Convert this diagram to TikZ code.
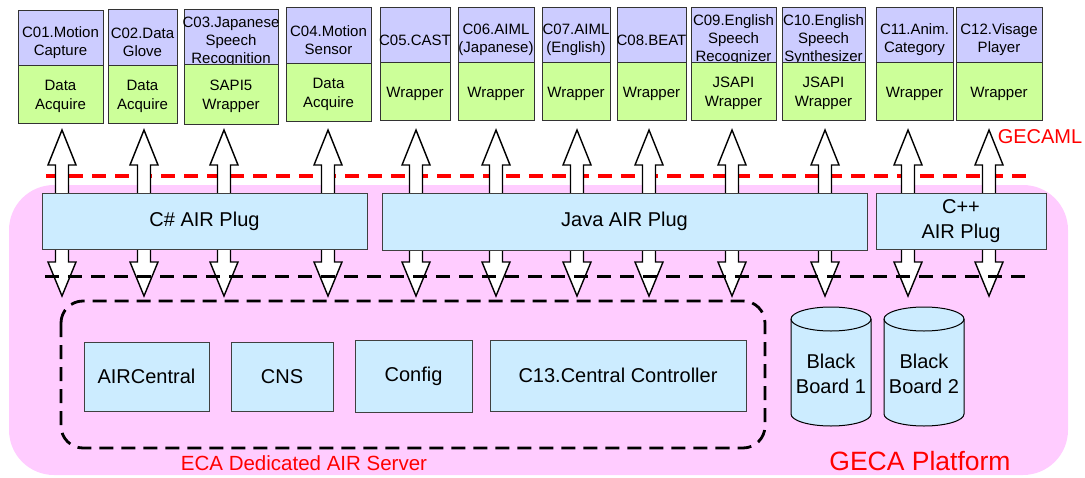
\documentclass[tikz,border=0pt]{standalone}
\usepackage{fontspec}
\setmainfont{Liberation Sans}
\usetikzlibrary{calc}
\definecolor{pinkbg}{HTML}{FFCCFF}
\definecolor{lav}{HTML}{CCCCFF}
\definecolor{grn}{HTML}{CCFF99}
\definecolor{plugblue}{HTML}{CCECFF}
\definecolor{edge}{HTML}{333333}

\newcommand\topcomp[8]{%
  \node[upbox, minimum width=#3-#2, minimum height=#5-#4] (#1u) at ({(#2+#3)/2},{(#4+#5)/2}) {};
  \node[uptext] (#1t) at ({(#2+#3)/2},{(#4+#5)/2+5.5}) {#7};
  \node[lowbox, minimum width=#3-#2, minimum height=#6-#5] (#1l) at ({(#2+#3)/2},{(#5+#6)/2}) {};
  \node[lowtext] (#1w) at ({(#2+#3)/2},{(#5+#6)/2+2.5}) {#8};
}
\newcommand\fatup[1]{\draw[fatarr] (#1-6.5,200) -- (#1-6.5,165) -- (#1-14,165) -- (#1,130) -- (#1+14,165) -- (#1+6.5,165) -- (#1+6.5,200) -- cycle;}
\newcommand\fatdown[1]{\draw[fatarr] (#1-6.5,243) -- (#1-6.5,262) -- (#1-14,262) -- (#1,296) -- (#1+14,262) -- (#1+6.5,262) -- (#1+6.5,243) -- cycle;}
\newcommand\cylshape[1]{%
  \path[fill=plugblue, draw=black, line width=1pt]
    (#1-40,319) -- (#1-40,414)
    .. controls (#1-40,420.63) and (#1-22.1,426) .. (#1,426)
    .. controls (#1+22.1,426) and (#1+40,420.63) .. (#1+40,414)
    -- (#1+40,319)
    .. controls (#1+40,312.37) and (#1+22.1,307) .. (#1,307)
    .. controls (#1-22.1,307) and (#1-40,312.37) .. (#1-40,319) -- cycle;
  \draw[line width=1pt]
    (#1-40,319)
    .. controls (#1-40,325.63) and (#1-22.1,331) .. (#1,331)
    .. controls (#1+22.1,331) and (#1+40,325.63) .. (#1+40,319);
}

\begin{document}
\begin{tikzpicture}[x=1pt,y=-1pt,
  upbox/.style={draw=edge, line width=0.9pt, fill=lav, inner sep=0pt, outer sep=0pt},
  uptext/.style={align=center, font=\fontsize{15}{18}\selectfont, inner sep=0pt},
  lowbox/.style={draw=edge, line width=0.9pt, fill=grn, inner sep=0pt, outer sep=0pt},
  lowtext/.style={align=center, font=\fontsize{15}{19}\selectfont, inner sep=0pt},
  plug/.style={draw=black!75, line width=1pt, fill=plugblue, align=center, inner sep=0pt, font=\fontsize{20}{25}\selectfont},
  inbox/.style={draw=black!75, line width=1pt, fill=plugblue, align=center, inner sep=0pt, font=\fontsize{20}{25}\selectfont},
  fatarr/.style={draw=black, line width=1.4pt, fill=white, line join=miter},
  reddash/.style={draw=red, line width=4pt, dash pattern=on 14pt off 9pt},
  blackdash/.style={draw=black, line width=3pt, dash pattern=on 14pt off 9pt},
  server/.style={draw=black, line width=2.8pt, dash pattern=on 14pt off 8pt, rounded corners=22pt},
  plaintext/.style={align=center, inner sep=0pt, font=\fontsize{20}{25}\selectfont}
]
\useasboundingbox (0,0) rectangle (1085,477);

% platform background
\fill[pinkbg, rounded corners=45pt] (9,185) rectangle (1068,475);

% GECAML line
\coordinate (redA) at (46,176);
\coordinate (redB) at (1027,176);
\draw[reddash] (redA) -- (redB);

% arrows
\foreach \ax in {62,144,224,328,416,496,577,649,732,825,908,989} {\fatup{\ax}\fatdown{\ax}}

% plugs
\node[plug, minimum width=325, minimum height=56] (csplug) at (204.5,221) {C\# AIR Plug};
\node[plug, minimum width=485, minimum height=57] (javaplug) at (624.5,221.5) {Java AIR Plug};
\node[plug, minimum width=170, minimum height=56] (cppplug) at (961,221) {C++\\AIR Plug};

% lower dashed line
\coordinate (blkA) at (45,276);
\coordinate (blkB) at (1025,276);
\draw[blackdash] (blkA) -- (blkB);

% ECA dedicated AIR server
\draw[server] (61,301) rectangle (765,448);
\node[inbox, minimum width=125, minimum height=69] (aircentral) at (146.5,376.5) {AIRCentral};
\node[inbox, minimum width=102, minimum height=69] (cns) at (282,376.5) {CNS};
\node[inbox, minimum width=117, minimum height=72] (config) at (413.5,376) {Config};
\node[inbox, minimum width=256, minimum height=71] (c13) at (618,375.5) {C13.Central Controller};
\node[plaintext, text=red, font=\fontsize{20.5}{25}\selectfont] (ecalabel) at (304,463) {ECA Dedicated AIR Server};

% black boards
\cylshape{831}
\node[plaintext] (bb1) at (831,374) {Black\\Board 1};
\cylshape{924}
\node[plaintext] (bb2) at (924,374) {Black\\Board 2};

\node[plaintext, text=red, font=\fontsize{26.5}{30}\selectfont] (gecaplat) at (920,461.5) {GECA Platform};
\node[plaintext, text=red, font=\fontsize{20}{24}\selectfont] (gecaml) at (1040,137) {GECAML};

% top components
\topcomp{c01}{18}{103}{10}{65}{123}{C01.Motion\\Capture}{Data\\Acquire}
\topcomp{c02}{108}{177}{9}{65}{123}{C02.Data\\Glove}{Data\\Acquire}
\topcomp{c03}{184}{278}{9}{64}{124}{C03.Japanese\\Speech\\Recognition}{SAPI5\\Wrapper}
\topcomp{c04}{286}{371}{7}{63}{121}{C04.Motion\\Sensor}{Data\\Acquire}
\topcomp{c05}{380}{450}{7}{62}{120}{C05.CAST}{Wrapper}
\topcomp{c06}{458}{534}{7}{62}{120}{C06.AIML\\(Japanese)}{Wrapper}
\topcomp{c07}{542}{610}{7}{62}{120}{C07.AIML\\(English)}{Wrapper}
\topcomp{c08}{617}{686}{7}{62}{120}{C08.BEAT}{Wrapper}
\topcomp{c09}{691}{776}{7}{62}{120}{C09.English\\Speech\\Recognizer}{JSAPI\\Wrapper}
\topcomp{c10}{782}{865}{7}{62}{120}{C10.English\\Speech\\Synthesizer}{JSAPI\\Wrapper}
\topcomp{c11}{876}{953}{7}{62}{120}{C11.Anim.\\Category}{Wrapper}
\topcomp{c12}{956}{1042}{7}{62}{120}{C12.Visage\\Player}{Wrapper}
\end{tikzpicture}
\end{document}
